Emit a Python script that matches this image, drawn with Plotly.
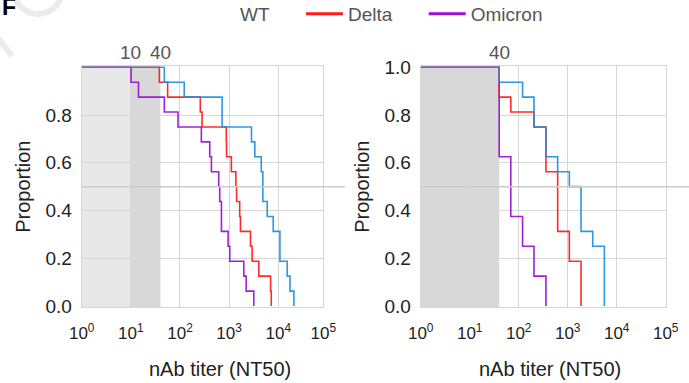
import math
import plotly.graph_objects as go

W, H = 689, 383

variants = ["WT", "Delta", "Omicron"]
colors = {"WT": "#1a8fe3", "Delta": "#ff1a1a", "Omicron": "#9810d8"}

# nAb titers (NT50) per sample, left panel
left_titers = {
    "WT": [48, 122, 719, 719, 2850, 3330, 4500, 4850, 4850, 5960, 7890,
           10800, 10800, 15200, 17300, 20800],
    "Delta": [38, 56, 259, 281, 875, 885, 1110, 1370, 1420, 1640, 1700,
              2720, 2940, 4020, 6970, 7190],
    "Omicron": [10.1, 14.3, 48, 91, 272, 403, 436, 614, 644, 697, 697,
                953, 1030, 1990, 2220, 3180],
}
# right panel
right_titers = {
    "WT": [40, 120, 205, 205, 360, 360, 624, 1080, 1870, 1870, 1870,
           3240, 5600, 5600, 5600, 5600],
    "Delta": [40, 40, 69, 205, 360, 360, 360, 624, 624, 624, 624,
              1080, 1080, 1870, 1870, 1870],
    "Omicron": [40, 40, 40, 40, 40, 40, 69, 69, 69, 69, 120, 120,
                205, 205, 360, 360],
}

x_tick_vals = [1, 10, 100, 1000, 10000, 100000]
x_tick_text = ["10<sup>0</sup>", "10<sup>1</sup>", "10<sup>2</sup>",
               "10<sup>3</sup>", "10<sup>4</sup>", "10<sup>5</sup>"]
y_tick_left = [0, 0.2, 0.4, 0.6, 0.8]
y_tick_right = [0, 0.2, 0.4, 0.6, 0.8, 1.0]
x_title = "nAb titer (NT50)"
y_title = "Proportion"

FONT = "Arial, 'Liberation Sans', Helvetica, sans-serif"
GRID = "#d6d6d6"
TXT = "#222222"


def steps(titers):
    t = sorted(titers)
    n = len(t)
    xs = [1] + t
    ys = [1.0] + [1 - (i + 1) / n for i in range(n)]
    return xs, ys


fig = go.Figure()

# legend entries (WT shown without a line swatch, as in the reference)
NBSP = "\u00a0" * 5
for v in variants:
    fig.add_trace(go.Scatter(
        x=[None], y=[None], mode="lines", name=v + NBSP,
        line=dict(color=("rgba(0,0,0,0)" if v == "WT" else colors[v]), width=3),
        showlegend=True))

for v in ["Omicron", "Delta", "WT"]:
    xs, ys = steps(left_titers[v])
    fig.add_trace(go.Scatter(x=xs, y=ys, mode="lines", line_shape="hv",
                             line=dict(color=colors[v], width=1.6),
                             opacity=0.92, showlegend=False,
                             xaxis="x", yaxis="y"))
    xs, ys = steps(right_titers[v])
    fig.add_trace(go.Scatter(x=xs, y=ys, mode="lines", line_shape="hv",
                             line=dict(color=colors[v], width=1.6),
                             opacity=0.92, showlegend=False,
                             xaxis="x2", yaxis="y2"))


def px_x(p):
    return p / W


def px_y(p):
    return (H - p) / H


left_max = 4.916
yr = [-0.004, 1.004]
ydom = [px_y(306.95), px_y(66.35)]

axis_common = dict(
    showgrid=True, gridcolor=GRID, gridwidth=1.2, zeroline=False,
    showline=True, linecolor=GRID, linewidth=1.2, mirror=True,
    ticks="", automargin=False,
)
xtf = dict(family=FONT, size=17, color=TXT)
ytf = dict(family=FONT, size=19, color=TXT)
ttf = dict(family=FONT, size=20, color=TXT)

left_tv = x_tick_vals[:-1] + [10 ** left_max]
fig.update_layout(
    width=W, height=H, margin=dict(l=0, r=0, t=0, b=0, autoexpand=False),
    paper_bgcolor="white", plot_bgcolor="white",
    font=dict(family=FONT, size=17, color=TXT),
    xaxis=dict(type="log", range=[0, left_max], domain=[px_x(81.7), px_x(323.3)],
               tickvals=left_tv, ticktext=x_tick_text, anchor="y",
               ticklabelstandoff=11, tickfont=xtf,
               **axis_common),
    yaxis=dict(range=yr, domain=ydom, tickvals=y_tick_left,
               ticktext=["%.1f" % v for v in y_tick_left], anchor="x",
               ticklabelstandoff=5, tickfont=ytf,
               title=dict(text=y_title, font=ttf, standoff=9),
               **axis_common),
    xaxis2=dict(type="log", range=[0, 5], domain=[px_x(420.7), px_x(665.7)],
                tickvals=x_tick_vals, ticktext=x_tick_text, anchor="y2",
                ticklabelstandoff=11, tickfont=xtf,
                **axis_common),
    yaxis2=dict(range=yr, domain=ydom, tickvals=y_tick_right,
                ticktext=["%.1f" % v for v in y_tick_right], anchor="x2",
                ticklabelstandoff=5, tickfont=ytf,
                title=dict(text=y_title, font=ttf, standoff=9),
                **axis_common),
    legend=dict(orientation="h", x=px_x(193), y=px_y(-5), xanchor="left", yanchor="top",
                font=dict(family=FONT, size=19, color="#555555"),
                itemwidth=37,
                bgcolor="rgba(0,0,0,0)", traceorder="normal"),
)

shapes = [
    # limit-of-detection shading
    dict(type="rect", xref="x", yref="y", x0=1, x1=10, y0=yr[0], y1=yr[1],
         fillcolor="#e8e8e8", line=dict(width=0), layer="below"),
    dict(type="rect", xref="x", yref="y", x0=10, x1=40, y0=yr[0], y1=yr[1],
         fillcolor="#d8d8d8", line=dict(width=0), layer="below"),
    dict(type="rect", xref="x2", yref="y2", x0=1, x1=40, y0=yr[0], y1=yr[1],
         fillcolor="#d8d8d8", line=dict(width=0), layer="below"),
    # 0.5 reference lines
    dict(type="line", xref="paper", yref="y", x0=px_x(81.7), x1=px_x(345), y0=0.5, y1=0.5,
         line=dict(color="#cccccc", width=1.5)),
    dict(type="line", xref="paper", yref="y2", x0=px_x(420.7), x1=1.0, y0=0.5, y1=0.5,
         line=dict(color="#cccccc", width=1.5)),
    # faint watermark fragments
    dict(type="circle", xref="paper", yref="paper", x0=px_x(14), x1=px_x(62),
         y0=px_y(14), y1=px_y(-34), line=dict(color="#ebebeb", width=6)),
    dict(type="line", xref="paper", yref="paper", x0=px_x(-2), x1=px_x(12),
         y0=px_y(38), y1=px_y(56), line=dict(color="#ebebeb", width=6)),
]
fig.update_layout(shapes=shapes)

ann_y = px_y(52)
afont = dict(family=FONT, size=19, color="#555555")
annotations = [
    dict(text="10", x=math.log10(10), xref="x", y=ann_y, yref="paper",
         showarrow=False, xanchor="center", yanchor="middle", font=afont),
    dict(text="40", x=math.log10(40), xref="x", y=ann_y, yref="paper",
         showarrow=False, xanchor="center", yanchor="middle", font=afont),
    dict(text="40", x=math.log10(40), xref="x2", y=ann_y, yref="paper",
         showarrow=False, xanchor="center", yanchor="middle", font=afont),
    # x-axis titles
    dict(text=x_title, x=px_x(219.5), y=px_y(369), xref="paper", yref="paper",
         showarrow=False, xanchor="center", yanchor="middle", font=ttf),
    dict(text=x_title, x=px_x(550), y=px_y(369), xref="paper", yref="paper",
         showarrow=False, xanchor="center", yanchor="middle", font=ttf),
    # panel letter
    dict(text="<b>F</b>", x=px_x(0), y=px_y(7), xref="paper", yref="paper",
         showarrow=False, xanchor="left", yanchor="middle",
         font=dict(family=FONT, size=23, color="#000000")),
]
fig.update_layout(annotations=annotations)

fig.write_html("out.html")
